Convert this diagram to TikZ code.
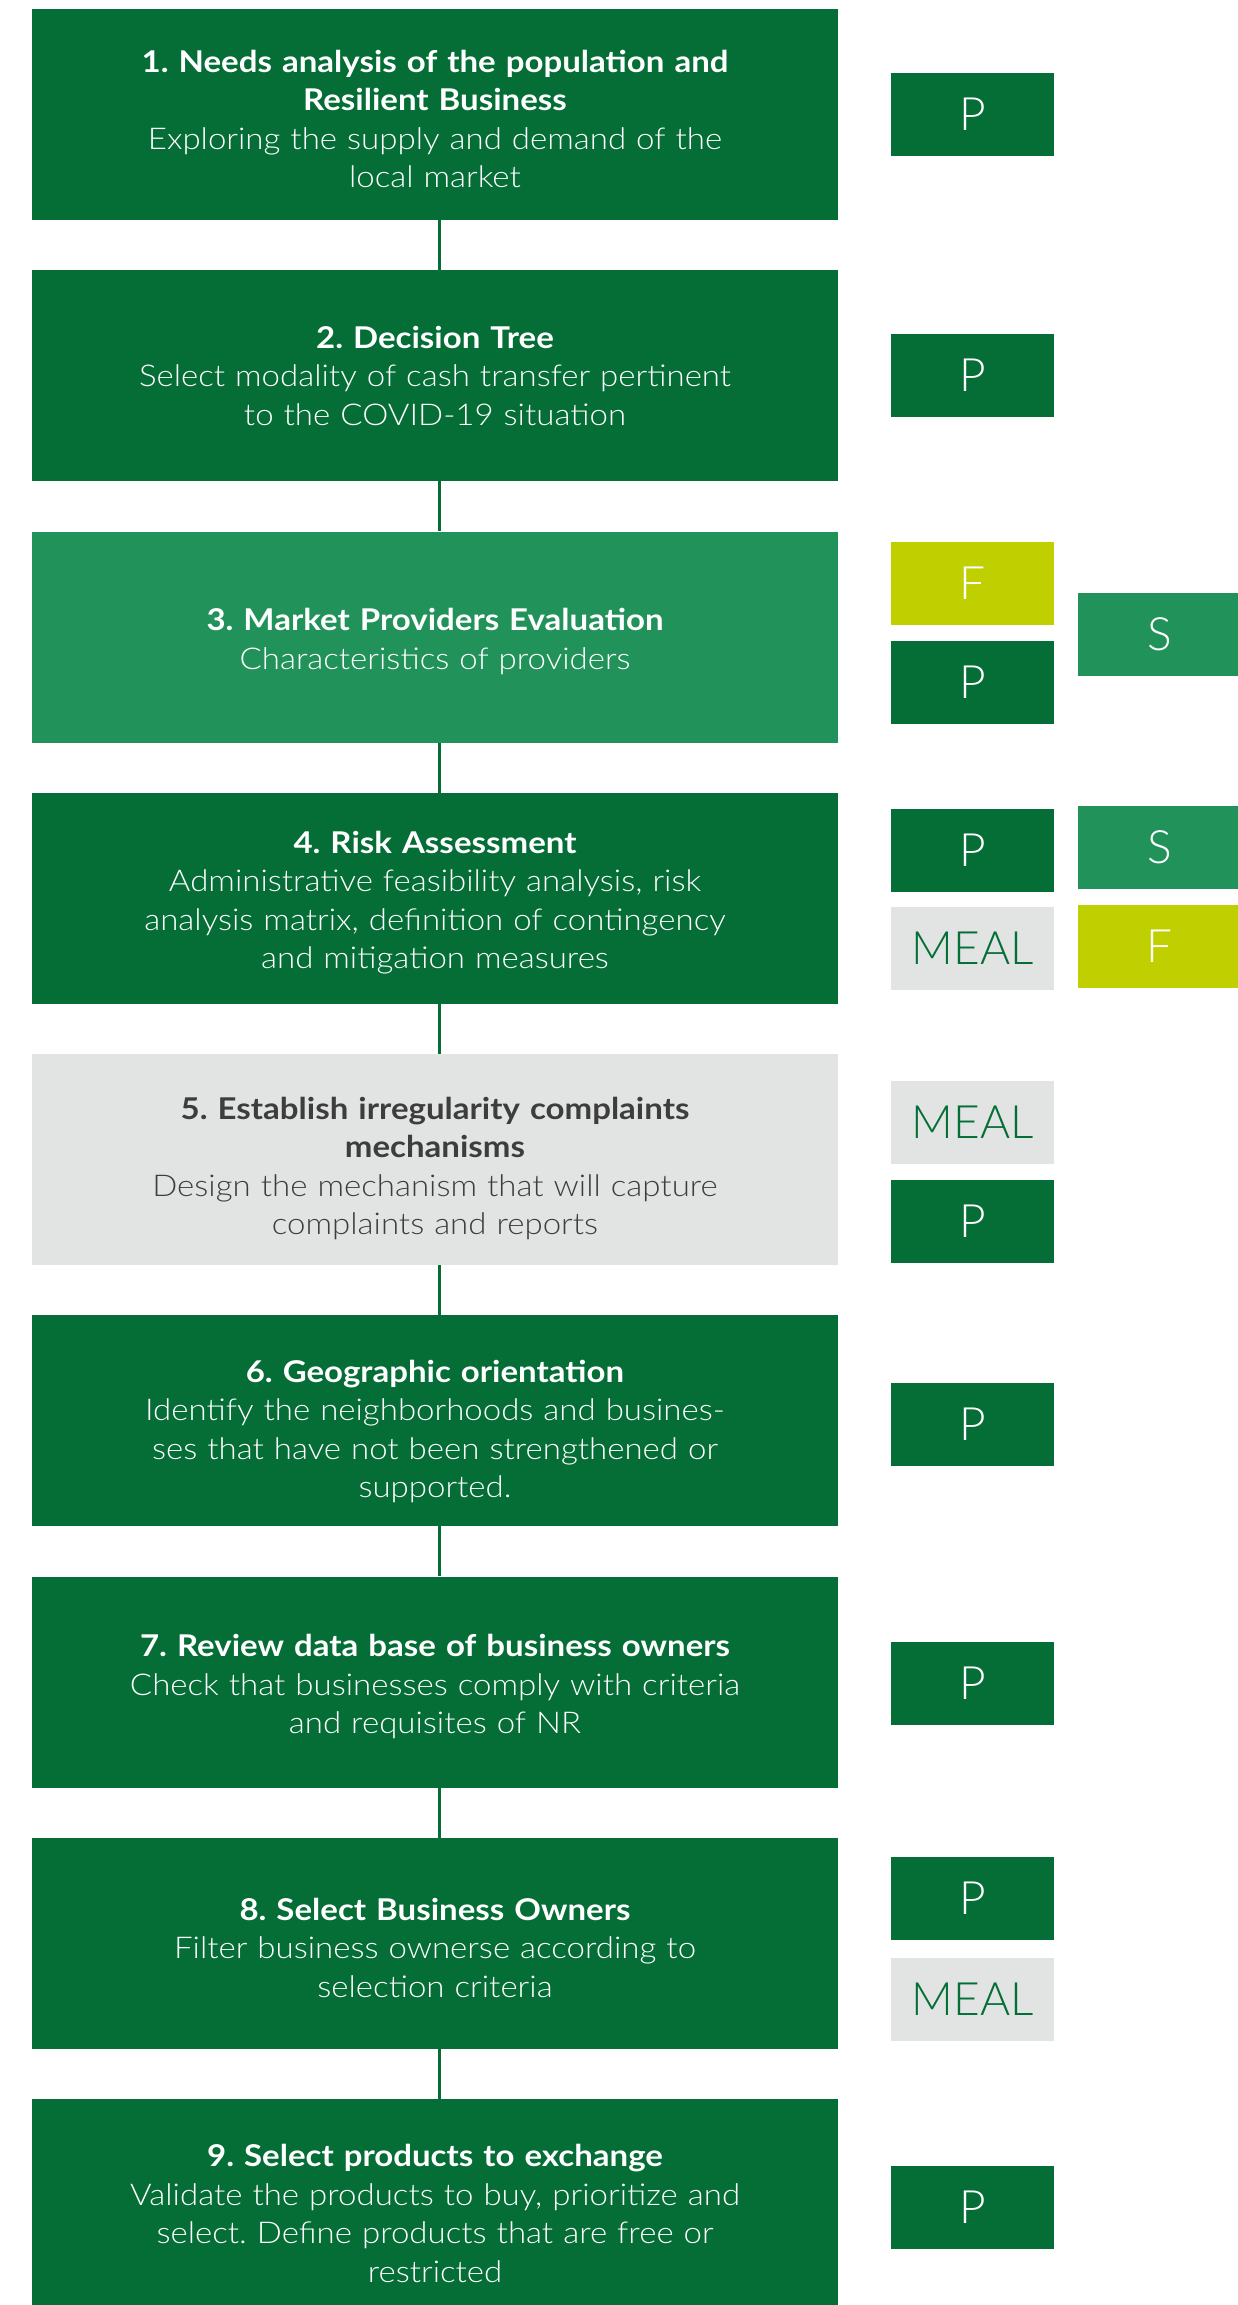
\documentclass[tikz,border=0pt]{standalone}
\usepackage{fontspec}
\setmainfont{Lato}[UprightFont={* Light}, BoldFont={* Bold}, FakeStretch=1.1]
\newfontfamily\tagfont{Lato}[UprightFont={* Light}]
\definecolor{dkg}{HTML}{046E36}
\definecolor{mdg}{HTML}{21935A}
\definecolor{lime}{HTML}{BFCF00}
\definecolor{lgrey}{HTML}{E2E4E3}
\definecolor{tgrey}{HTML}{3D3D3D}
\frenchspacing
\begin{document}
\begin{tikzpicture}[x=1pt,y=-1pt,
  stage/.style={minimum width=806pt, minimum height=211pt, inner sep=0pt, fill=dkg},
  stagetxt/.style={inner sep=0pt, text width=790pt, align=center, yshift=-4.5pt, font=\fontsize{30}{38.5}\selectfont, text=white},
  tag/.style={minimum width=163pt, minimum height=83pt, inner sep=0pt, font=\tagfont\fontsize{46}{46}\selectfont, text=white},
  ptag/.style={tag, fill=dkg},
  stag/.style={tag, fill=mdg},
  ftag/.style={tag, fill=lime},
  mtag/.style={tag, fill=lgrey, text=dkg},
  link/.style={draw=dkg, line width=3pt}]
\useasboundingbox (0,0) rectangle (1237,2305);
\coordinate (cx) at (439,0);

\node[stage, label={[stagetxt]center:{\textbf{1. Needs analysis of the population and}\\\textbf{Resilient Business}\\Exploring the supply and demand of the\\local market}}] (b1) at (435,114.5) {};
\node[stage, label={[stagetxt, yshift=4.5pt]center:{\textbf{2. Decision Tree}\\Select modality of cash transfer pertinent\\to the COVID-19 situation}}] (b2) at (435,375.75) {};
\node[stage, fill=mdg, label={[stagetxt]center:{\textbf{3. Market Providers Evaluation}\\Characteristics of providers}}] (b3) at (435,637) {};
\node[stage, label={[stagetxt]center:{\textbf{4. Risk Assessment}\\Administrative feasibility analysis, risk\\analysis matrix, definition of contingency\\and mitigation measures}}] (b4) at (435,898.25) {};
\node[stage, fill=lgrey, label={[stagetxt, text=tgrey, yshift=-4.5pt]center:{\textbf{5. Establish irregularity complaints}\\\textbf{mechanisms}\\Design the mechanism that will capture\\complaints and reports}}] (b5) at (435,1159.5) {};
\node[stage, label={[stagetxt, yshift=-6pt]center:{\textbf{6. Geographic orientation}\\Identify the neighborhoods and busines-\\ses that have not been strengthened or\\supported.}}] (b6) at (435,1420.75) {};
\node[stage, label={[stagetxt]center:{\textbf{7. Review data base of business owners}\\Check that businesses comply with criteria\\and requisites of NR}}] (b7) at (435,1682) {};
\node[stage, label={[stagetxt]center:{\textbf{8. Select Business Owners}\\Filter business ownerse according to\\selection criteria}}] (b8) at (435,1943.25) {};
\node[stage, label={[stagetxt, yshift=-4.5pt]center:{\textbf{9. Select products to exchange}\\Validate the products to buy, prioritize and\\select. Define products that are free or\\restricted}}] (b9) at (435,2204.5) {};

\foreach \a/\b in {b1/b2,b2/b3,b3/b4,b4/b5,b5/b6,b6/b7,b7/b8,b8/b9}
  \draw[link] (\a.south -| cx) -- (\b.north -| cx);

\node[ptag] (p1) at (972.5,114.5) {P};
\node[ptag] (p2) at (972.5,375.5) {P};
\node[ftag] (f3) at (972.5,583.5) {F};
\node[ptag] (p3) at (972.5,682) {P};
\node[stag] (s3) at (1159.5,634.5) {S};
\node[ptag] (p4) at (972.5,850) {P};
\node[mtag] (m4) at (972.5,948.5) {MEAL};
\node[stag] (s4) at (1159.5,847.5) {S};
\node[ftag] (f4) at (1159.5,946.5) {F};
\node[mtag] (m5) at (972.5,1122.5) {MEAL};
\node[ptag] (p5) at (972.5,1221.5) {P};
\node[ptag] (p6) at (972.5,1424) {P};
\node[ptag] (p7) at (972.5,1683) {P};
\node[ptag] (p8) at (972.5,1898.5) {P};
\node[mtag] (m8) at (972.5,1999.5) {MEAL};
\node[ptag] (p9) at (972.5,2207.5) {P};
\end{tikzpicture}
\end{document}
